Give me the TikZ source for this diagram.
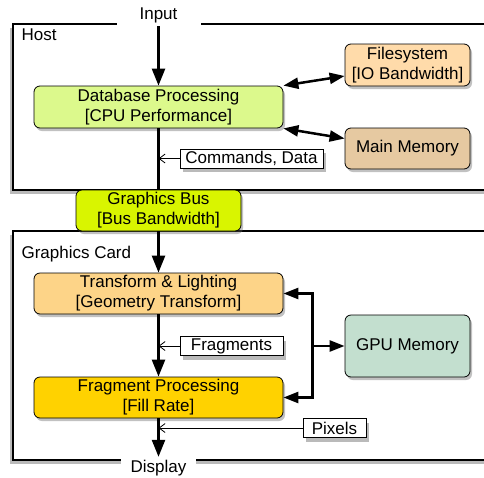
\documentclass[tikz,border=0pt]{standalone}
\usepackage{fontspec}
\setmainfont{Liberation Sans}
\usetikzlibrary{arrows.meta,shadows}
\definecolor{dbgreen}{HTML}{DCF98C}
\definecolor{busgreen}{HTML}{D9F500}
\definecolor{fspeach}{HTML}{FFDBAA}
\definecolor{mmtan}{HTML}{E6C9A1}
\definecolor{tlorange}{HTML}{FDD488}
\definecolor{fpgold}{HTML}{FFD200}
\definecolor{gpugreen}{HTML}{C3DFCF}
\tikzset{
  unit/.style={draw, line width=.8pt, rounded corners=6pt, inner sep=0pt, align=center,
    drop shadow={shadow xshift=2pt, shadow yshift=-3pt, opacity=.4, fill=black!60}},
  tag/.style={draw, line width=.8pt, fill=white, inner sep=0pt,
    drop shadow={shadow xshift=3pt, shadow yshift=-4pt, opacity=.45, fill=black!60}},
  group/.style={draw, fill=white, line width=1.2pt,
    drop shadow={shadow xshift=-3pt, shadow yshift=-4pt, opacity=.45, fill=black!60}},
  flow/.style={line width=2.5pt, -{Triangle[length=17pt,width=13pt]}},
  link/.style={line width=2.5pt, {Triangle[length=15pt,width=11pt]}-{Triangle[length=15pt,width=11pt]}},
  gpulink/.style={line width=2.5pt, -{Triangle[length=15pt,width=11pt]}},
  hint/.style={line width=.8pt, -{Straight Barb[length=6pt,width=9pt]}}
}
\begin{document}
\begin{tikzpicture}[x=1pt, y=-1pt, font=\fontsize{17}{20}\selectfont]
  \useasboundingbox (0,0) rectangle (484,477);
  % host and card frames
  \draw[group] (13,24) rectangle (500,190);
  \draw[group] (13,231) rectangle (500,460);
  \node[anchor=west] (host) at (18,35) {Host};
  \node[anchor=west] (card) at (18,254) {Graphics Card};
  \node[fill=white, minimum width=84pt, minimum height=22pt, inner sep=0pt] (inp) at (158.5,15) {Input};
  \node[fill=white, minimum width=75pt, minimum height=22pt, inner sep=0pt] (disp) at (158.5,468) {Display};

  \node[unit, fill=dbgreen, minimum width=249pt, minimum height=42pt] (db) at (158.5,107) {Database Processing\\{}[CPU Performance]};
  \node[unit, fill=fspeach, minimum width=125pt, minimum height=42pt] (fs) at (407.5,65) {Filesystem\\{}[IO Bandwidth]};
  \node[unit, fill=mmtan, minimum width=125pt, minimum height=41pt] (mm) at (407.5,148.5) {Main Memory};
  \node[tag, minimum width=143pt, minimum height=19pt] (cmd) at (251.5,158.5) {Commands, Data};
  \node[unit, fill=busgreen, minimum width=165pt, minimum height=41pt] (bus) at (158.5,210.5) {Graphics Bus\\{}[Bus Bandwidth]};
  \node[unit, fill=tlorange, minimum width=249pt, minimum height=41pt] (tl) at (158.5,293.5) {Transform \& Lighting\\{}[Geometry Transform]};
  \node[tag, minimum width=103pt, minimum height=19pt] (frag) at (231.5,346) {Fragments};
  \node[unit, fill=fpgold, minimum width=249pt, minimum height=41pt] (fp) at (158.5,397.5) {Fragment Processing\\{}[Fill Rate]};
  \node[tag, minimum width=63pt, minimum height=19pt] (pix) at (334.5,428) {Pixels};
  \node[unit, fill=gpugreen, minimum width=125pt, minimum height=62pt] (gpu) at (407.5,346) {GPU Memory};
  \coordinate (fork) at ([xshift=-32pt]gpu.west);

  % main flow
  \draw[flow] (inp.south) -- (db.north);
  \draw[line width=2.5pt] (db.south) -- (bus.north);
  \draw[flow] (bus.south) -- (tl.north);
  \draw[flow] (tl.south) -- (fp.north);
  \draw[flow] (fp.south) -- (disp.north);

  % memories
  \draw[link] (db.north east) -- ([yshift=-11pt]fs.west);
  \draw[link] (db.south east) -- ([yshift=10pt]mm.west);
  \draw[gpulink] (fork) -- (gpu.west);
  \draw[gpulink] (fork) |- (tl.east);
  \draw[gpulink] (fork) |- (fp.east);

  % data labels
  \draw[hint] (cmd.west) -- (db.south |- cmd.west);
  \draw[hint] (frag.west) -- (tl.south |- frag.west);
  \draw[hint] (pix.west) -- (fp.south |- pix.west);
\end{tikzpicture}
\end{document}
